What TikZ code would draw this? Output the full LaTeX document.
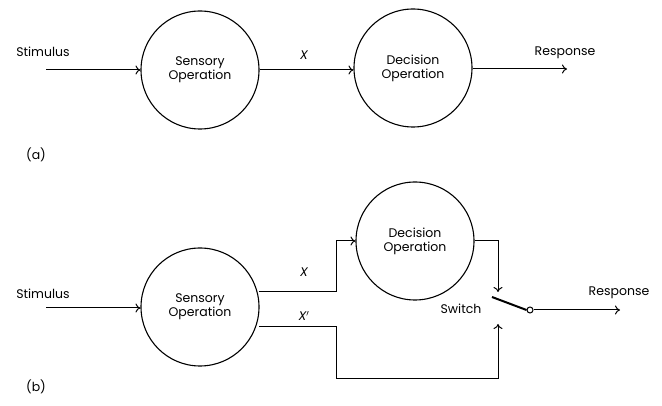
\documentclass[tikz,border=0pt]{standalone}
\usepackage{fontspec}
\setmainfont{Poppins}
\usetikzlibrary{arrows.meta}
\begin{document}
\begin{tikzpicture}[x=1pt,y=-1pt,
  op/.style={circle,draw,line width=1.1pt,minimum size=118pt,inner sep=0pt,align=center,font=\fontsize{12.5}{14}\selectfont},
  lbl/.style={font=\fontsize{12.5}{14}\selectfont,inner sep=0pt},
  var/.style={font=\fontsize{12.5}{14}\selectfont\itshape,inner sep=0pt},
  conn/.style={line width=1pt},
  arr/.style={conn,-{To[length=5pt,width=9pt]}}]
\useasboundingbox (0,0) rectangle (662,406);
% (a)
\node[op] (s1) at (200,70) {Sensory\\Operation};
\node[op] (d1) at (413,68) {Decision\\Operation};
\coordinate (in1) at (46,70);
\coordinate (out1) at (567,69);
\draw[arr] (in1) -- (s1.west);
\draw[arr] (s1.east) -- (d1.west |- s1.east);
\draw[arr] (d1.east |- out1) -- (out1);
\node[lbl] (st1) at (43,52) {Stimulus};
\node[var] (x1) at (304,55) {X};
\node[lbl] (r1) at (565,53) {Response};
\node[lbl] (a) at (36,155) {(a)};
% (b)
\node[op] (s2) at (200,307) {Sensory\\Operation};
\node[op] (d2) at (415,241) {Decision\\Operation};
\coordinate (in2) at (46,308);
\coordinate (xa) at (259,292);
\coordinate (xb) at (259,327);
\coordinate (j) at (336,292);
\coordinate (top) at (498,292);
\coordinate (bot) at (498,324);
\coordinate (bl) at (336,378);
\coordinate (swa) at (492,297);
\node[circle,draw,line width=1pt,minimum size=6pt,inner sep=0pt] (sw) at (530,310) {};
\coordinate (out2) at (620,310);
\draw[arr] (in2) -- (s2.west |- in2);
\draw[arr] (xa) -- (j) |- (d2.west);
\draw[arr] (xb) -| (bl) -| (bot);
\draw[arr] (d2.east) -| (top);
\draw[line width=2pt] (swa) -- (sw.west);
\draw[arr] (sw.east) -- (out2);
\node[lbl] (st2) at (43,294) {Stimulus};
\node[var] (x2) at (304,272) {X};
\node[var] (x3) at (304,316) {X$'$};
\node[lbl] (sw2) at (461,309) {Switch};
\node[lbl] (r2) at (619,293) {Response};
\node[lbl] (b) at (36,387) {(b)};
\end{tikzpicture}
\end{document}
